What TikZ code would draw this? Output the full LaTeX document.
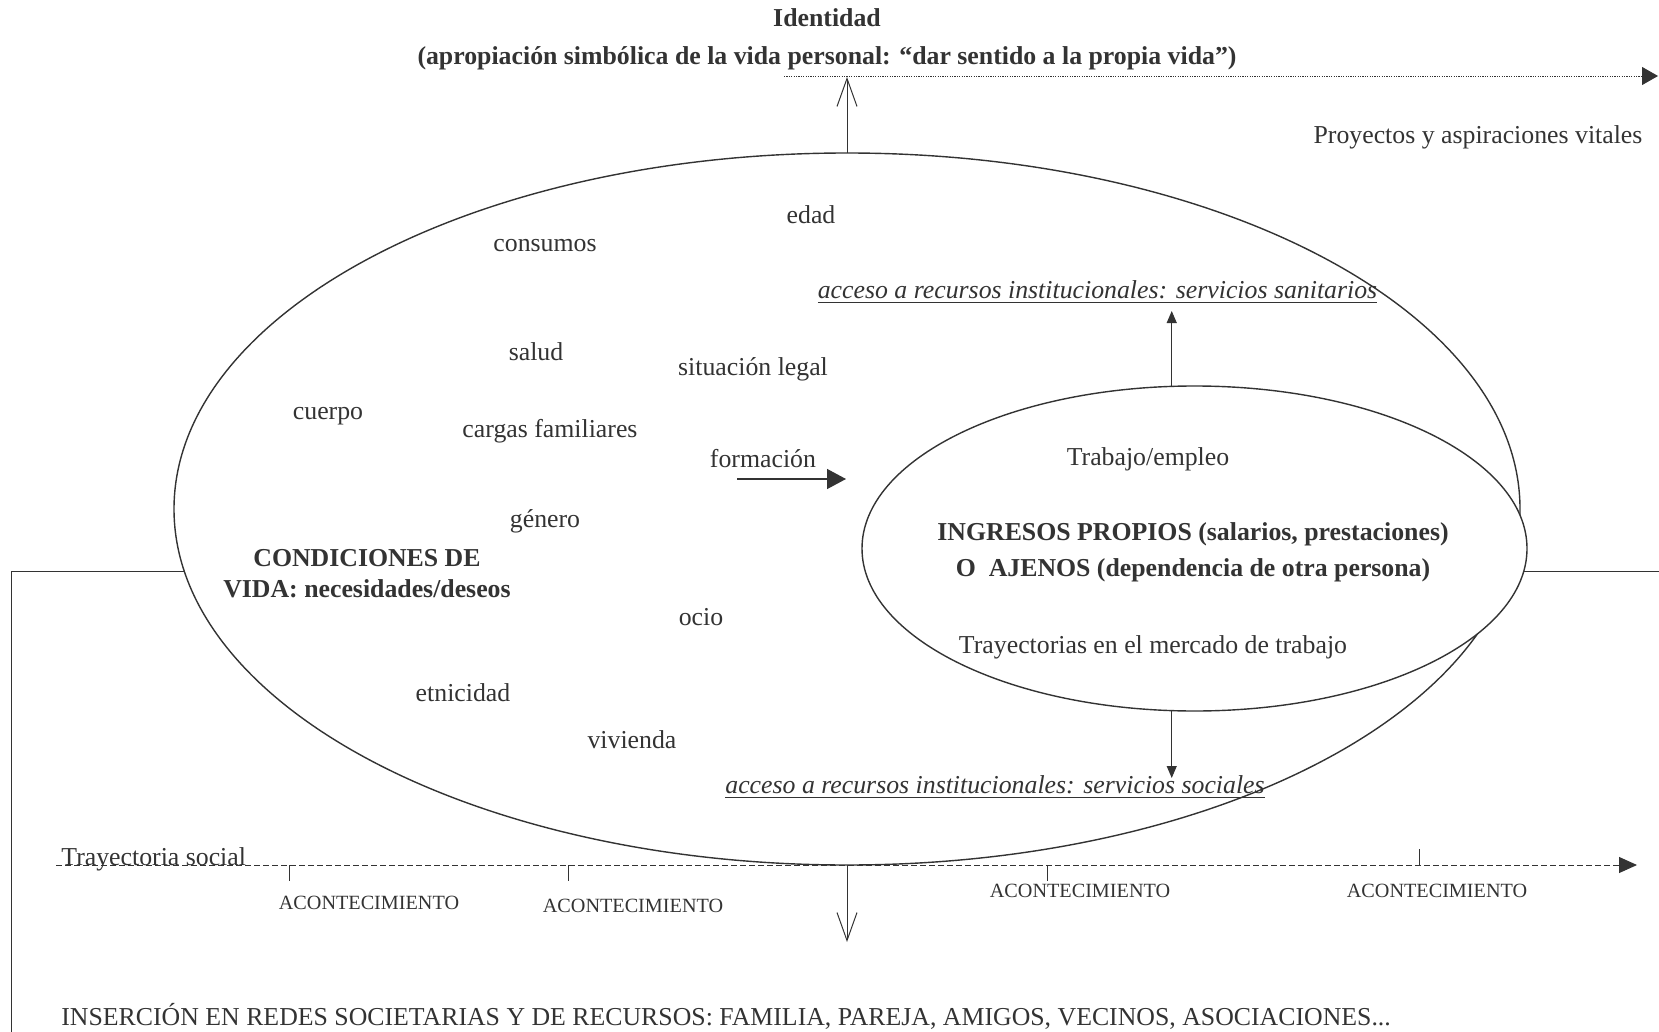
\documentclass[tikz,border=0pt]{standalone}
\usepackage{fontspec}
\setmainfont{Liberation Serif}
\usetikzlibrary{shapes.geometric,arrows.meta}
\definecolor{ink}{HTML}{333333}

\begin{document}
\begin{tikzpicture}[x=0.5pt, y=-0.5pt, color=ink,
  txt/.style={font=\fontsize{12.9}{15.5}\selectfont, yshift=-1.5pt},
  boldtxt/.style={font=\fontsize{12.9}{15.5}\selectfont\bfseries, align=center, yshift=-1.5pt},
  evtxt/.style={font=\fontsize{10.1}{12}\selectfont, yshift=-1pt},
  ell/.style={ellipse, draw, fill=white, line width=0.7pt, inner sep=0pt, outer sep=0pt},
  fillarrow/.style={-{Triangle[length=9.5pt,width=10pt]}, line width=0.7pt},
  openarrow/.style={-{Straight Barb[length=14pt,width=10pt]}, line width=0.5pt},
  smallarrow/.style={-{Triangle[length=6pt,width=5pt]}, line width=0.5pt}]
  \useasboundingbox (0,0) rectangle (1659,1032);

  % redes societarias
  \coordinate (redB) at (11,1032);
  \coordinate (redL) at (11,571);
  \coordinate (redR) at (1659,571);
  \draw[line width=0.4pt] (redB) -- (redL) -- (redR);

  \node[ell, minimum width=673pt, minimum height=356pt] (vida) at (847,509) {};
  \node[ell, minimum width=332.5pt, minimum height=162.5pt] (ingresos) at (1194.5,548.5) {};

  % identidad
  \node[boldtxt, font=\fontsize{12.9}{19}\selectfont\bfseries] (ident) at (827,36)
    {Identidad\\(apropiación simbólica de la vida personal: “dar sentido a la propia vida”)};
  \coordinate (idtip) at (847,77);
  \draw[openarrow] (vida.north) -- (idtip);
  \coordinate (proyA) at (784,76);
  \coordinate (proyB) at (1658,76);
  \draw[line width=0.4pt, dash pattern=on 0.6pt off 0.6pt, -{Triangle[length=8pt,width=9pt]}] (proyA) -- (proyB);
  \node[txt] (proy) at (1478,134) {Proyectos y aspiraciones vitales};

  % condiciones de vida
  \node[txt] (edad) at (811,212) {edad};
  \node[txt] (consumos) at (545,243) {consumos};
  \node[txt] (salud) at (536,349) {salud};
  \node[txt] (legal) at (753,366) {situación legal};
  \node[txt] (cuerpo) at (328,413) {cuerpo};
  \node[txt] (cargas) at (550,428) {cargas familiares};
  \node[txt] (formacion) at (763,456) {formación};
  \node[txt] (genero) at (545,518) {género};
  \node[boldtxt] (condic) at (367,571) {CONDICIONES DE\\VIDA: necesidades/deseos};
  \node[txt] (ocio) at (701,614) {ocio};
  \node[txt] (etnia) at (463,690) {etnicidad};
  \node[txt] (vivienda) at (632,737) {vivienda};
  \coordinate (formA) at (737,479);
  \coordinate (formB) at (846,479);
  \draw[fillarrow] (formA) -- (formB);

  % ingresos
  \node[txt] (trabajo) at (1148,456) {Trabajo/empleo};
  \node[boldtxt, font=\fontsize{12.9}{18}\selectfont\bfseries] (ingtxt) at (1193,549)
    {INGRESOS PROPIOS (salarios, prestaciones)\\O\ \ AJENOS (dependencia de otra persona)};
  \node[txt] (mercado) at (1153,644) {Trayectorias en el mercado de trabajo};

  \node[txt] (sanit) at (1097.5,289) {\underline{\textit{acceso a recursos institucionales: servicios sanitarios}}};
  \node[txt] (social) at (995,784) {\underline{\textit{acceso a recursos institucionales: servicios sociales}}};
  \coordinate (sanitip) at (1171,311);
  \coordinate (socialtip) at (1171,778);
  \draw[smallarrow] (ingresos.98) -- (ingresos.98 |- sanitip);
  \draw[smallarrow] (ingresos.-98) -- (ingresos.-98 |- socialtip);

  % trayectoria social
  \coordinate (trayA) at (56,865);
  \coordinate (trayB) at (1637,865);
  \draw[line width=0.5pt, dash pattern=on 3pt off 1.5pt, -{Triangle[length=9pt,width=8pt]}] (trayA) -- (trayB);
  \node[txt, anchor=base west, inner sep=0pt] (tray) at (61,862) {Trayectoria social};
  \foreach \x/\d in {289/16, 568/16, 1047/16, 1419/-16}
    \draw[line width=0.5pt] (\x,865) -- ++(0,\d);
  \node[evtxt] (ev1) at (369,901) {ACONTECIMIENTO};
  \node[evtxt] (ev2) at (633,904) {ACONTECIMIENTO};
  \node[evtxt] (ev3) at (1080,889) {ACONTECIMIENTO};
  \node[evtxt] (ev4) at (1437,889) {ACONTECIMIENTO};
  \coordinate (bajo) at (847,942);
  \draw[openarrow] (vida.south) -- (bajo);

  \node[txt, anchor=west, inner sep=0pt] (redes) at (61,1013)
    {INSERCIÓN EN REDES SOCIETARIAS Y DE RECURSOS: FAMILIA, PAREJA, AMIGOS, VECINOS, ASOCIACIONES...};
\end{tikzpicture}
\end{document}
